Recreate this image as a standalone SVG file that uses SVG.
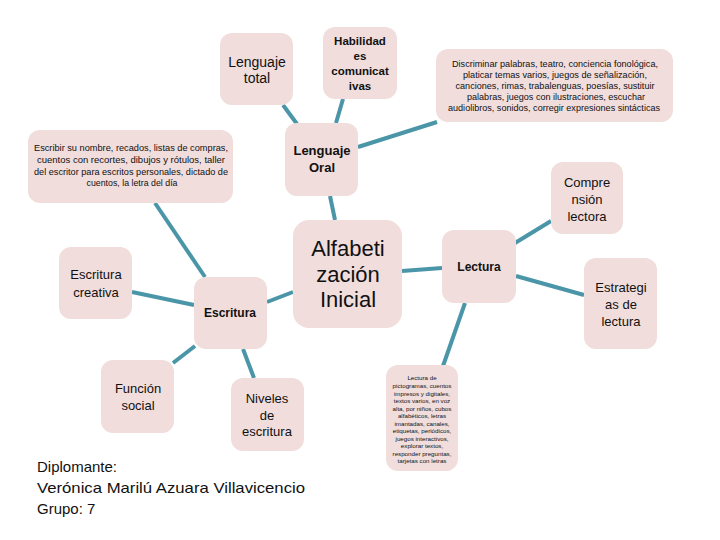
<svg xmlns="http://www.w3.org/2000/svg" width="720" height="540" viewBox="0 0 720 540">
<style>
.n{fill:#F0DDDC;}
.t{font-family:"Liberation Sans",Arial,sans-serif;fill:#111;text-anchor:middle;}
.b{font-weight:bold;}
.c line{stroke:#4A96A8;stroke-width:4;stroke-linecap:butt;}
</style>
<rect width="720" height="540" fill="#fff"/>
<g class="c" id="connectors">
<line x1="283" y1="105" x2="297" y2="124"/>
<line x1="343" y1="99" x2="336" y2="123"/>
<line x1="358" y1="147" x2="437" y2="122"/>
<line x1="330" y1="196" x2="335" y2="220"/>
<line x1="155" y1="203" x2="205" y2="277"/>
<line x1="132" y1="292" x2="194" y2="305"/>
<line x1="195" y1="346" x2="173" y2="363"/>
<line x1="243" y1="349" x2="254" y2="378"/>
<line x1="267" y1="302" x2="293" y2="292"/>
<line x1="402" y1="271" x2="442" y2="268"/>
<line x1="515" y1="243" x2="551" y2="221"/>
<line x1="516" y1="276" x2="584" y2="295"/>
<line x1="465" y1="303" x2="443" y2="366"/>
</g>
<g id="lenguaje-total"><rect class="n" x="220" y="33" width="73" height="72" rx="12"/>
<text class="t" font-size="14" x="257" y="67">Lenguaje</text><text class="t" font-size="14" x="257" y="83">total</text></g>
<g id="habilidades"><rect class="n" x="323" y="27" width="74" height="72" rx="12"/>
<text class="t b" font-size="11.5" x="360" y="45">Habilidad</text><text class="t b" font-size="11.5" x="360" y="60">es</text><text class="t b" font-size="11.5" x="360" y="75">comunicat</text><text class="t b" font-size="11.5" x="360" y="90">ivas</text></g>
<g id="lenguaje-oral"><rect class="n" x="285" y="123" width="73" height="73" rx="12"/>
<text class="t b" font-size="13" x="322" y="155">Lenguaje</text><text class="t b" font-size="13" x="322" y="172">Oral</text></g>
<g id="escribir"><rect class="n" x="28" y="130" width="205" height="73" rx="12"/>
<text class="t" font-size="9" x="131" y="151" textLength="194" lengthAdjust="spacingAndGlyphs">Escribir su nombre,  recados, listas de compras,</text>
<text class="t" font-size="9" x="131" y="163" textLength="188" lengthAdjust="spacingAndGlyphs">cuentos con recortes, dibujos y rótulos, taller</text>
<text class="t" font-size="9" x="131" y="175" textLength="194" lengthAdjust="spacingAndGlyphs">del escritor para escritos personales, dictado de</text>
<text class="t" font-size="9" x="132" y="186" textLength="91" lengthAdjust="spacingAndGlyphs">cuentos, la letra del día</text></g>
<g id="discriminar"><rect class="n" x="436" y="49" width="237" height="73" rx="12"/>
<text class="t" font-size="9" x="555" y="67" textLength="206" lengthAdjust="spacingAndGlyphs">Discriminar palabras, teatro, conciencia fonológica,</text>
<text class="t" font-size="9" x="555" y="78" textLength="184" lengthAdjust="spacingAndGlyphs">platicar temas varios, juegos de señalización,</text>
<text class="t" font-size="9" x="555" y="89" textLength="199" lengthAdjust="spacingAndGlyphs">canciones, rimas, trabalenguas, poesías, sustituir</text>
<text class="t" font-size="9" x="556" y="100" textLength="178" lengthAdjust="spacingAndGlyphs">palabras, juegos con ilustraciones,  escuchar</text>
<text class="t" font-size="9" x="554" y="111" textLength="212" lengthAdjust="spacingAndGlyphs">audiolibros, sonidos, corregir expresiones sintácticas</text></g>
<g id="comprension"><rect class="n" x="551" y="162" width="72" height="72" rx="12"/>
<text class="t" font-size="13" x="587" y="187">Compre</text><text class="t" font-size="13" x="587" y="204">nsión</text><text class="t" font-size="13" x="587" y="221">lectora</text></g>
<g id="alfabetizacion"><rect class="n" x="293" y="220" width="109" height="108" rx="16"/>
<text class="t" font-size="22" x="348" y="256">Alfabeti</text><text class="t" font-size="22" x="348" y="282">zación</text><text class="t" font-size="22" x="348" y="307">Inicial</text></g>
<g id="lectura"><rect class="n" x="442" y="230" width="74" height="73" rx="12"/>
<text class="t b" font-size="12" x="479" y="271">Lectura</text></g>
<g id="estrategias"><rect class="n" x="584" y="258" width="73" height="91" rx="12"/>
<text class="t" font-size="13" x="621" y="292">Estrategi</text><text class="t" font-size="13" x="621" y="309">as de</text><text class="t" font-size="13" x="621" y="326">lectura</text></g>
<g id="escritura-creativa"><rect class="n" x="59" y="247" width="73" height="72" rx="12"/>
<text class="t" font-size="13" x="96" y="279">Escritura</text><text class="t" font-size="13" x="96" y="297">creativa</text></g>
<g id="escritura"><rect class="n" x="194" y="277" width="73" height="72" rx="12"/>
<text class="t b" font-size="12" x="230" y="317">Escritura</text></g>
<g id="funcion-social"><rect class="n" x="101" y="360" width="73" height="73" rx="12"/>
<text class="t" font-size="13" x="138" y="393">Función</text><text class="t" font-size="13" x="138" y="410">social</text></g>
<g id="niveles"><rect class="n" x="231" y="378" width="73" height="73" rx="12"/>
<text class="t" font-size="13" x="267" y="403">Niveles</text><text class="t" font-size="13" x="267" y="420">de</text><text class="t" font-size="13" x="267" y="436">escritura</text></g>
<g id="lectura-de"><rect class="n" x="386" y="365" width="72" height="106" rx="12"/>
<g font-size="6.2">
<text class="t" x="422" y="380">Lectura de</text>
<text class="t" x="422" y="388">pictogramas, cuentos</text>
<text class="t" x="422" y="395.5">impresos y digitales,</text>
<text class="t" x="422" y="403">textos varios, en voz</text>
<text class="t" x="422" y="410.5">alta, por niños, cubos</text>
<text class="t" x="422" y="418">alfabéticos, letras</text>
<text class="t" x="422" y="425.5">imantadas, canales,</text>
<text class="t" x="422" y="433">etiquetas, periódicos,</text>
<text class="t" x="422" y="440.5">juegos interactivos,</text>
<text class="t" x="422" y="448">explorar textos,</text>
<text class="t" x="422" y="455.5">responder preguntas,</text>
<text class="t" x="422" y="463">tarjetas con letras</text>
</g></g>
<g id="diplomante" font-family="Liberation Sans,Arial,sans-serif" font-size="15" fill="#111">
<text x="37" y="472">Diplomante:</text>
<text x="37" y="493" textLength="268" lengthAdjust="spacingAndGlyphs">Verónica Marilú Azuara Villavicencio</text>
<text x="37" y="514">Grupo: 7</text>
</g>
</svg>
